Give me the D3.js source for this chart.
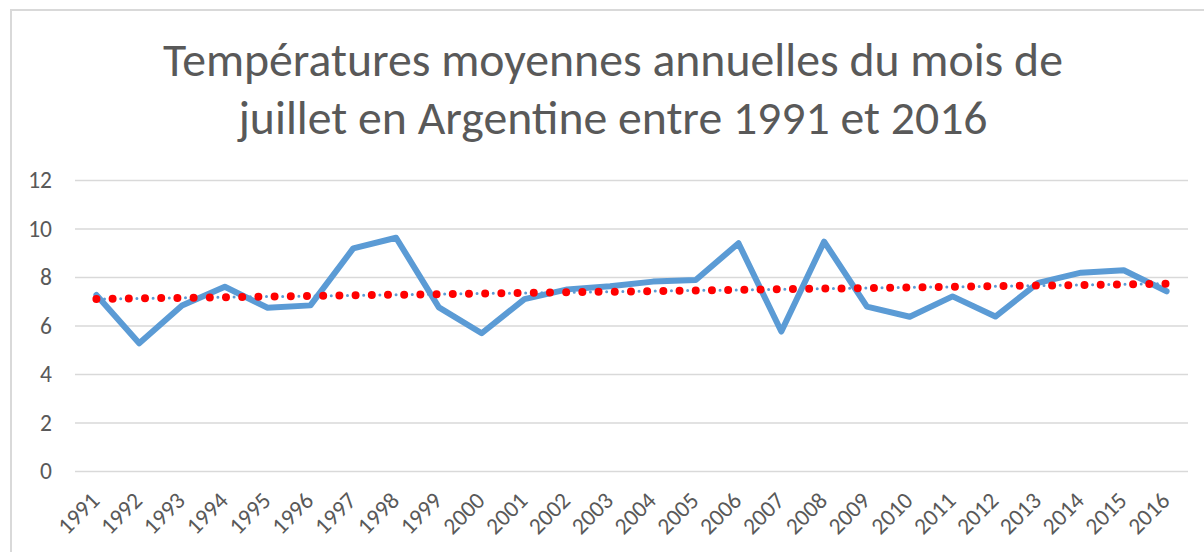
<!DOCTYPE html>
<html>
<head>
<meta charset="utf-8">
<script src="https://cdn.jsdelivr.net/npm/d3@7"></script>
<style>
  html, body { margin: 0; padding: 0; background: #fff; }
  svg { display: block; }
  text { font-family: Carlito, Calibri, Lato, "Open Sans", sans-serif; fill: #595959; }
</style>
</head>
<body>
<svg id="chart" width="1204" height="552"></svg>
<script>
// Mean July temperature in Argentina, 1991–2016 (°C)
const years = ["1991","1992","1993","1994","1995","1996","1997","1998","1999","2000",
               "2001","2002","2003","2004","2005","2006","2007","2008","2009","2010",
               "2011","2012","2013","2014","2015","2016"];
const temperatures = [7.26, 5.27, 6.82, 7.60, 6.73, 6.83, 9.18, 9.62, 6.75, 5.68,
                      7.09, 7.49, 7.62, 7.81, 7.88, 9.39, 5.75, 9.46, 6.78, 6.36,
                      7.20, 6.37, 7.76, 8.18, 8.28, 7.41];
const yTicks = [0, 2, 4, 6, 8, 10, 12];
const titleLines = ["Températures moyennes annuelles du mois de",
                    "juillet en Argentine entre 1991 et 2016"];

const svg = d3.select("#chart");
const W = 1204, H = 552;
const plot = { left: 75, right: 1188, top: 180, bottom: 471 };
const labelSize = 23.5;

// outer chart frame
svg.append("rect")
  .attr("x", 11).attr("y", 10)
  .attr("width", W).attr("height", H)
  .attr("fill", "#fff").attr("stroke", "#d9d9d9").attr("stroke-width", 2);

const x = d3.scalePoint().domain(years).range([plot.left, plot.right]).padding(0.5);
const y = d3.scaleLinear().domain([0, 12]).range([plot.bottom, plot.top]);

// title: size chosen so the first line spans 900px
const titleBase = [76, 134];
const title = svg.append("g");
const titleTexts = titleLines.map((t, i) =>
  title.append("text")
    .attr("x", 613).attr("y", titleBase[i])
    .attr("text-anchor", "middle")
    .style("font-size", "40px")
    .text(t));
const w0 = titleTexts[0].node().getComputedTextLength();
const titleSize = 40 * 900 / w0;
titleTexts.forEach(t => t.style("font-size", titleSize + "px"));

// horizontal gridlines + y labels
const yAxis = d3.axisLeft(y).tickValues(yTicks).tickSize(-(plot.right - plot.left)).tickPadding(23);
const gy = svg.append("g").attr("transform", `translate(${plot.left},0)`).call(yAxis);
gy.attr("font-family", null).attr("font-size", null);
gy.select(".domain").remove();
gy.selectAll(".tick line").attr("stroke", "#d9d9d9").attr("stroke-width", 1.5);
gy.selectAll(".tick text")
  .style("font-size", labelSize + "px")
  .attr("fill", "#595959");

// x labels, rotated 45°
const xAxis = d3.axisBottom(x).tickSize(0).tickPadding(0);
const gx = svg.append("g").attr("transform", `translate(0,${plot.bottom})`).call(xAxis);
gx.attr("font-family", null).attr("font-size", null);
gx.select(".domain").remove();
gx.selectAll(".tick text")
  .style("font-size", labelSize + "px")
  .attr("fill", "#595959")
  .attr("text-anchor", "end")
  .attr("x", 0).attr("y", 0).attr("dy", null)
  .attr("transform", "translate(4,31) rotate(-45)");

// data series
const pts = years.map((yr, i) => [x(yr), y(temperatures[i])]);
svg.append("path")
  .attr("d", d3.line()(pts))
  .attr("fill", "none")
  .attr("stroke", "#5b9bd5")
  .attr("stroke-width", 6)
  .attr("stroke-linejoin", "round")
  .attr("stroke-linecap", "round");

// linear trend (least squares on year index)
const n = temperatures.length;
const idx = d3.range(1, n + 1);
const mx = d3.mean(idx), my = d3.mean(temperatures);
const slope = d3.sum(idx, (k, i) => (k - mx) * (temperatures[i] - my)) / d3.sum(idx, k => (k - mx) ** 2);
const trend = k => my + slope * (k - mx);
const trendPts = [[x(years[0]), y(trend(1))], [x(years[n - 1]), y(trend(n))]];

svg.append("path")
  .attr("d", d3.line()(trendPts))
  .attr("fill", "none")
  .attr("stroke", "#5b9bd5")
  .attr("stroke-width", 3)
  .attr("stroke-linecap", "round")
  .attr("stroke-dasharray", "0 8.1");

svg.append("path")
  .attr("d", d3.line()(trendPts))
  .attr("fill", "none")
  .attr("stroke", "#ff0000")
  .attr("stroke-width", 8)
  .attr("stroke-linecap", "round")
  .attr("stroke-dasharray", "0 16.2");
</script>
</body>
</html>
